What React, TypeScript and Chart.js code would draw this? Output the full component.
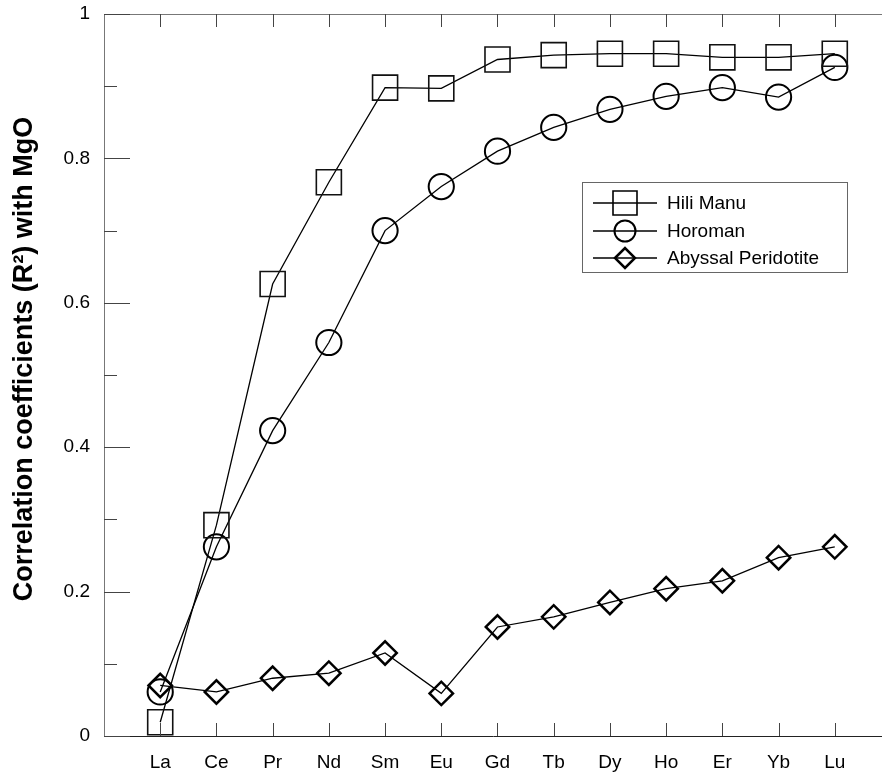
import React, { useEffect, useRef } from "react";
import { Chart, registerables } from "chart.js";

Chart.register(...registerables);

const categories = ["La", "Ce", "Pr", "Nd", "Sm", "Eu", "Gd", "Tb", "Dy", "Ho", "Er", "Yb", "Lu"];
const hiliManu = [0.019, 0.292, 0.626, 0.767, 0.898, 0.897, 0.937, 0.943, 0.945, 0.945, 0.94, 0.94, 0.945];
const horoman = [0.061, 0.262, 0.423, 0.545, 0.7, 0.761, 0.81, 0.843, 0.868, 0.886, 0.898, 0.885, 0.926];
const abyssal = [0.07, 0.061, 0.08, 0.087, 0.115, 0.059, 0.151, 0.165, 0.185, 0.204, 0.215, 0.247, 0.262];
const yTicks = [0, 0.2, 0.4, 0.6, 0.8, 1];
const yMinorTicks = [0.1, 0.3, 0.5, 0.7, 0.9];
const seriesNames = ["Hili Manu", "Horoman", "Abyssal Peridotite"];
const yTitle = "Correlation coefficients (R\u00B2) with MgO";

const FONT = '"Liberation Sans", Arial, Helvetica, sans-serif';

const toPoints = (vals: number[]) => vals.map((v, i) => ({ x: i + 1, y: v }));

function drawMarker(ctx: CanvasRenderingContext2D, kind: string, x: number, y: number, s: number, lw: number) {
  ctx.save();
  ctx.strokeStyle = "#000";
  ctx.lineWidth = lw;
  ctx.beginPath();
  if (kind === "rect") {
    ctx.rect(x - s / 2, y - s / 2, s, s);
  } else if (kind === "circle") {
    ctx.arc(x, y, s / 2, 0, Math.PI * 2);
  } else {
    ctx.moveTo(x - s / 2, y);
    ctx.lineTo(x, y - s / 2);
    ctx.lineTo(x + s / 2, y);
    ctx.lineTo(x, y + s / 2);
    ctx.closePath();
  }
  ctx.stroke();
  ctx.restore();
}

const decorPlugin = {
  id: "decor",
  afterDraw(chart: any) {
    const { ctx, chartArea } = chart;
    const xs = chart.scales.x;
    const ys = chart.scales.y;
    const { left, right, top, bottom } = chartArea;
    ctx.save();
    // top frame line
    ctx.strokeStyle = "#777";
    ctx.lineWidth = 1;
    ctx.beginPath();
    ctx.moveTo(left, Math.round(top) + 0.5);
    ctx.lineTo(right, Math.round(top) + 0.5);
    ctx.stroke();
    // y ticks (inward)
    ctx.strokeStyle = "#444";
    ctx.beginPath();
    yTicks.forEach((v) => {
      const py = Math.round(ys.getPixelForValue(v)) + 0.5;
      ctx.moveTo(left, py);
      ctx.lineTo(left + 26, py);
    });
    yMinorTicks.forEach((v) => {
      const py = Math.round(ys.getPixelForValue(v)) + 0.5;
      ctx.moveTo(left, py);
      ctx.lineTo(left + 13, py);
    });
    // x ticks (inward, bottom and top)
    categories.forEach((_, i) => {
      const px = Math.round(xs.getPixelForValue(i + 1)) + 0.5;
      ctx.moveTo(px, bottom);
      ctx.lineTo(px, bottom - 13);
      ctx.moveTo(px, top);
      ctx.lineTo(px, top + 13);
    });
    ctx.stroke();

    // y title
    ctx.save();
    ctx.translate(32, 359);
    ctx.rotate(-Math.PI / 2);
    ctx.font = `bold 27px ${FONT}`;
    ctx.fillStyle = "#000";
    ctx.textAlign = "center";
    ctx.textBaseline = "alphabetic";
    ctx.fillText(yTitle, 0, 0);
    ctx.restore();

    // legend
    const bx = 582, by = 182, bw = 265, bh = 90;
    ctx.fillStyle = "#fff";
    ctx.fillRect(bx, by, bw, bh);
    ctx.strokeStyle = "#666";
    ctx.lineWidth = 1;
    ctx.strokeRect(bx + 0.5, by + 0.5, bw, bh);
    const rows = [203, 231, 258];
    const kinds = ["rect", "circle", "diamond"];
    const sizes = [24, 21, 20];
    const lws = [1.6, 2, 2.5];
    rows.forEach((ry, k) => {
      ctx.strokeStyle = "#000";
      ctx.lineWidth = 1.3;
      ctx.beginPath();
      ctx.moveTo(593, ry);
      ctx.lineTo(657, ry);
      ctx.stroke();
      drawMarker(ctx, kinds[k], 625, ry, sizes[k], lws[k]);
      ctx.fillStyle = "#000";
      ctx.font = `19px ${FONT}`;
      ctx.textAlign = "left";
      ctx.textBaseline = "middle";
      ctx.fillText(seriesNames[k], 667, ry + 1);
    });
    ctx.restore();
  },
};

export default function App() {
  const ref = useRef<HTMLCanvasElement | null>(null);
  useEffect(() => {
    if (!ref.current) return;
    const chart = new Chart(ref.current, {
      type: "line",
      data: {
        datasets: [
          {
            label: seriesNames[0],
            data: toPoints(hiliManu),
            borderColor: "#000",
            borderWidth: 1.3,
            pointStyle: "rect",
            pointRadius: 17.7,
            pointBorderWidth: 1.6,
            pointBorderColor: "#111",
            pointBackgroundColor: "rgba(0,0,0,0)",
            fill: false,
            tension: 0,
            clip: false as any,
          },
          {
            label: seriesNames[1],
            data: toPoints(horoman),
            borderColor: "#000",
            borderWidth: 1.3,
            pointStyle: "circle",
            pointRadius: 12.6,
            pointBorderWidth: 2,
            pointBorderColor: "#000",
            pointBackgroundColor: "rgba(0,0,0,0)",
            fill: false,
            tension: 0,
            clip: false as any,
          },
          {
            label: seriesNames[2],
            data: toPoints(abyssal),
            borderColor: "#000",
            borderWidth: 1.3,
            pointStyle: "rectRot",
            pointRadius: 11.7,
            pointBorderWidth: 2.5,
            pointBorderColor: "#000",
            pointBackgroundColor: "rgba(0,0,0,0)",
            fill: false,
            tension: 0,
            clip: false as any,
          },
        ],
      },
      options: {
        animation: false,
        responsive: false,
        maintainAspectRatio: false,
        layout: { autoPadding: false, padding: { top: 14, right: 0, left: 0, bottom: 0 } },
        plugins: {
          legend: { display: false },
          tooltip: { enabled: false },
          title: { display: false },
        },
        scales: {
          x: {
            type: "linear",
            min: 0,
            max: 13.84,
            grid: { display: false, drawTicks: false, tickLength: 0 },
            border: { display: true, color: "#222", width: 1 },
            afterBuildTicks: (scale: any) => {
              scale.ticks = categories.map((_, i) => ({ value: i + 1 }));
            },
            afterFit: (scale: any) => {
              scale.height = 43;
              scale.paddingLeft = 0;
              scale.paddingRight = 0;
              scale.paddingTop = 0;
              scale.paddingBottom = 0;
            },
            ticks: {
              autoSkip: false,
              maxRotation: 0,
              minRotation: 0,
              padding: 15,
              color: "#000",
              font: { family: FONT, size: 19 },
              callback: (v: any) => categories[Math.round(Number(v)) - 1] ?? "",
            },
          },
          y: {
            type: "linear",
            min: 0,
            max: 1,
            grid: { display: false, drawTicks: false, tickLength: 0 },
            border: { display: true, color: "#777", width: 1 },
            afterBuildTicks: (scale: any) => {
              scale.ticks = yTicks.map((v) => ({ value: v }));
            },
            afterFit: (scale: any) => {
              scale.width = 104;
              scale.paddingLeft = 0;
              scale.paddingRight = 0;
              scale.paddingTop = 0;
              scale.paddingBottom = 0;
            },
            ticks: {
              padding: 14,
              color: "#000",
              font: { family: FONT, size: 19 },
              callback: (v: any) => {
                const n = Number(v);
                if (n === 0) return "0";
                if (n === 1) return "1";
                return n.toFixed(1);
              },
            },
          },
        },
      },
      plugins: [decorPlugin],
    });
    return () => chart.destroy();
  }, []);
  return (
    <div style={{ position: "absolute", left: 0, top: 0, width: 882, height: 779, background: "#fff" }}>
      <canvas ref={ref} width={882} height={779} style={{ display: "block", width: 882, height: 779 }} />
    </div>
  );
}
